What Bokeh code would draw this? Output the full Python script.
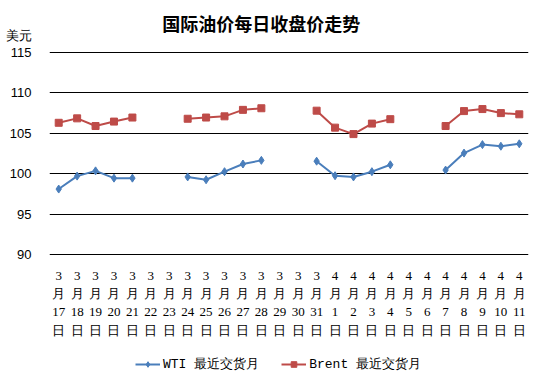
import numpy as np
from bokeh.plotting import figure
from bokeh.models import (ColumnDataSource, Legend, LegendItem, Label, LabelSet,
                          FixedTicker, Range1d)
from bokeh.embed import file_html
from bokeh.resources import INLINE

nan = np.nan
months = ["3"] * 15 + ["4"] * 11
days = [str(d) for d in range(17, 32)] + [str(d) for d in range(1, 12)]
wti = [98.1, 99.7, 100.35, 99.45, 99.45, nan, nan,
       99.6, 99.25, 100.25, 101.2, 101.65, nan, nan,
       101.55, 99.75, 99.6, 100.25, 101.1, nan, nan,
       100.45, 102.55, 103.6, 103.4, 103.7]
brent = [106.3, 106.85, 105.9, 106.45, 106.95, nan, nan,
         106.8, 106.95, 107.1, 107.9, 108.1, nan, nan,
         107.8, 105.7, 104.9, 106.2, 106.75, nan, nan,
         105.9, 107.75, 108.0, 107.5, 107.35]
yticks = [90, 95, 100, 105, 110, 115]
unit_label = "美元"
title_text = "国际油价每日收盘价走势"

# layout: the frame fills the canvas height; value axis 90..115 sits between px 52 and 254
H = 384
y_top_px, y_bot_px = 52, 254
ppu = (y_bot_px - y_top_px) / (yticks[-1] - yticks[0])
y_hi = yticks[-1] + y_top_px / ppu
y_lo = yticks[0] - (H - y_bot_px) / ppu
unit_pos = yticks[-1] + 17 / ppu

x = list(range(len(days)))
src = ColumnDataSource(dict(x=x, wti=wti, brent=brent, m=months, yue=["月"] * len(days),
                            d=days, ri=["日"] * len(days), base=[yticks[0]] * len(days)))

p = figure(width=544, height=H, output_backend="svg", toolbar_location=None,
           x_range=Range1d(-0.5, len(days) - 0.5), y_range=Range1d(y_lo, y_hi),
           min_border_left=49, min_border_right=16, min_border_top=0, min_border_bottom=0)
p.title.visible = False
p.outline_line_color = None
p.xaxis.visible = False
p.xgrid.grid_line_color = None
p.ygrid.ticker = FixedTicker(ticks=yticks)
p.ygrid.grid_line_color = "#000000"
p.ygrid.grid_line_width = 1
p.yaxis.ticker = FixedTicker(ticks=yticks + [unit_pos])
p.yaxis.major_label_overrides = {unit_pos: unit_label}
p.yaxis.axis_line_color = None
p.yaxis.major_tick_line_color = None
p.yaxis.minor_tick_line_color = None
p.yaxis.major_label_standoff = 12
p.yaxis.major_label_text_font = "Liberation Sans"
p.yaxis.major_label_text_font_size = "13px"
p.yaxis.major_label_text_color = "#000000"

blue = "#4A7EBB"
red = "#BE4B48"
l1 = p.line("x", "wti", source=src, line_color=blue, line_width=2)
m1 = p.scatter("x", "wti", source=src, marker="diamond", size=8, fill_color=blue, line_color=blue)
l2 = p.line("x", "brent", source=src, line_color=red, line_width=2)
m2 = p.scatter("x", "brent", source=src, marker="square", size=7, fill_color=red, line_color=red)

for i, col in enumerate(["m", "yue", "d", "ri"]):
    p.add_layout(LabelSet(x="x", y="base", text=col, source=src, y_offset=-21 - 18.3 * i,
                          text_align="center", text_baseline="middle", text_font_size="13px",
                          text_font="Liberation Sans", text_color="#000000"))

p.add_layout(Label(x=11.0, y=yticks[-1], y_offset=30, text=title_text, text_align="center",
                   text_baseline="middle", text_font_size="18px", text_font_style="bold",
                   text_font="Noto Sans CJK SC", text_color="#000000"))

legend = Legend(items=[LegendItem(label="WTI 最近交货月", renderers=[l1, m1]),
                       LegendItem(label="Brent 最近交货月", renderers=[l2, m2])],
                orientation="horizontal", location=(86, 11), padding=0, margin=0,
                spacing=22, glyph_width=25, glyph_height=14, label_height=14,
                label_standoff=3, border_line_alpha=0, background_fill_alpha=0,
                label_text_font="Liberation Mono", label_text_font_size="13px",
                label_text_color="#000000")
p.add_layout(legend)

open("out.html", "w").write(file_html(p, INLINE))
